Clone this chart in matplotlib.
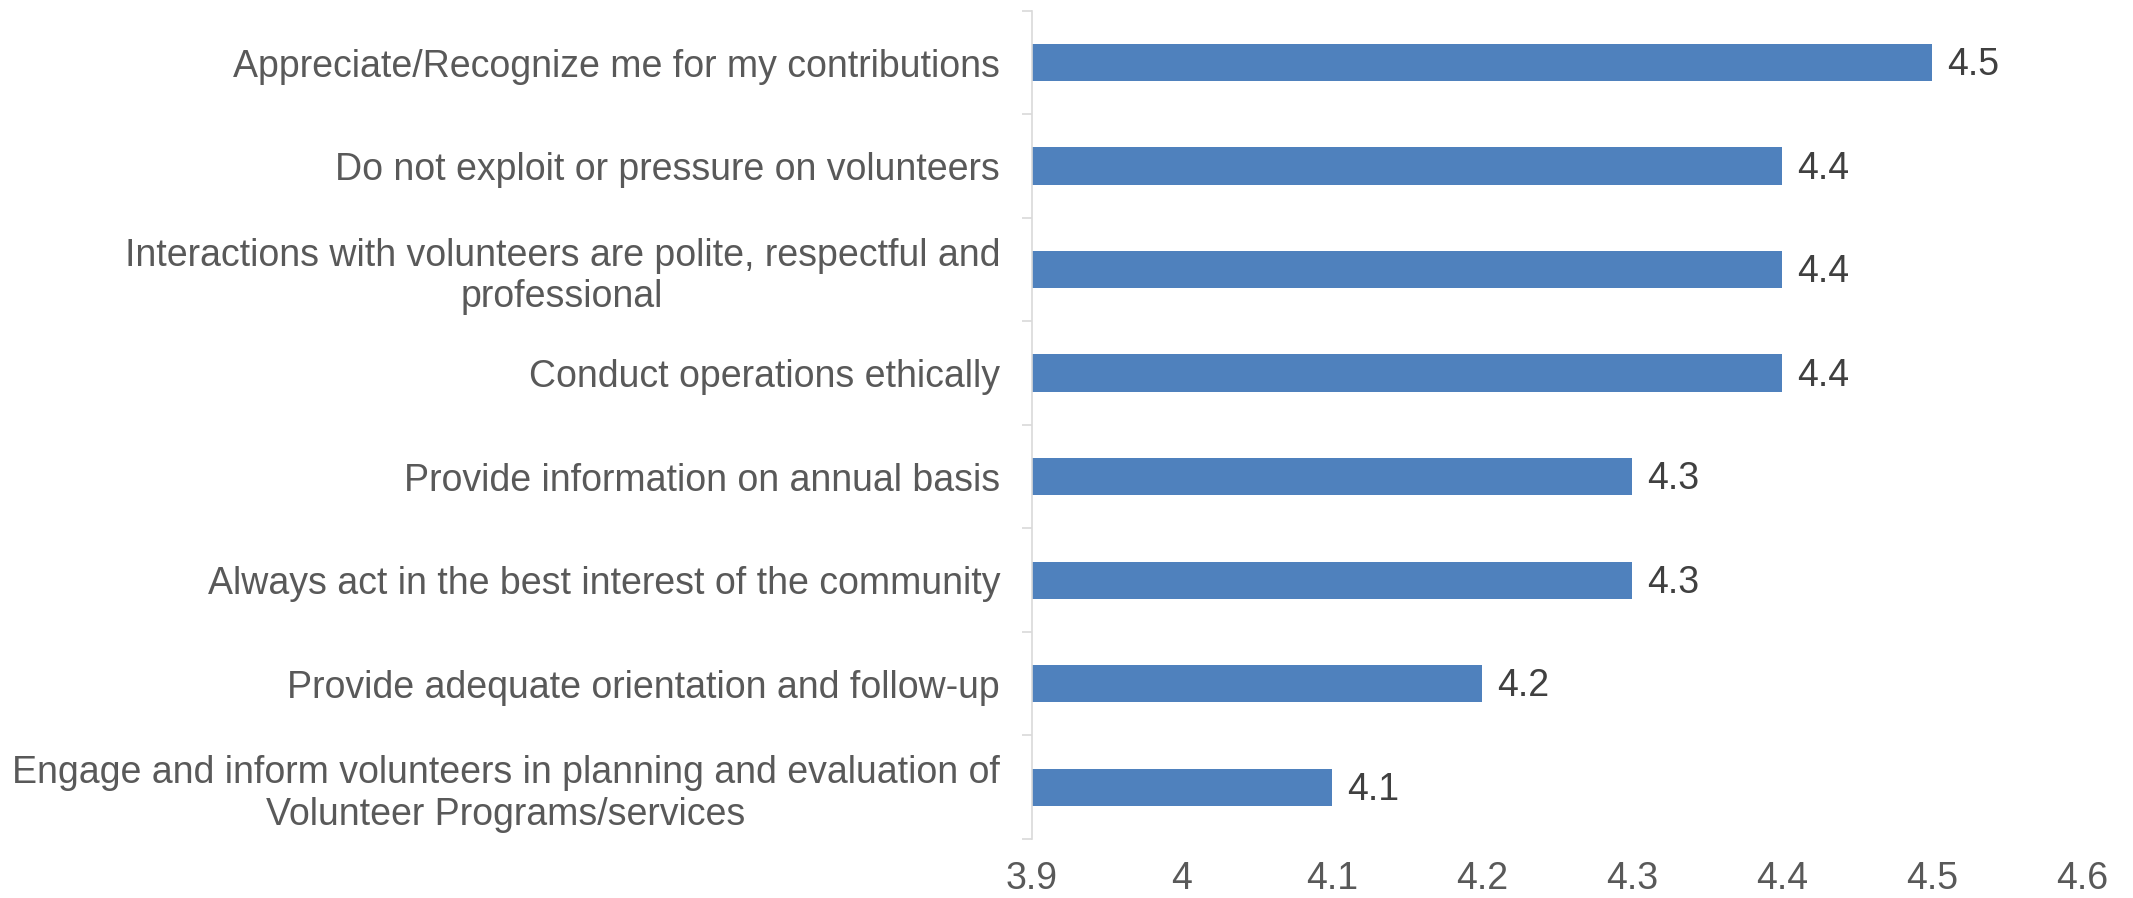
import matplotlib.pyplot as plt
import numpy as np

plt.rcParams['font.family'] = ['Liberation Sans', 'DejaVu Sans']

# Data (top to bottom as shown)
categories = [
    "Appreciate/Recognize me for my contributions",
    "Do not exploit or pressure on volunteers",
    "Interactions with volunteers are polite, respectful and\nprofessional",
    "Conduct operations ethically",
    "Provide information on annual basis",
    "Always act in the best interest of the community",
    "Provide adequate orientation and follow-up",
    "Engage and inform volunteers in planning and evaluation of\nVolunteer Programs/services",
]
scores = [4.5, 4.4, 4.4, 4.4, 4.3, 4.3, 4.2, 4.1]
score_labels = ["4.5", "4.4", "4.4", "4.4", "4.3", "4.3", "4.2", "4.1"]
x_ticks = [3.9, 4.0, 4.1, 4.2, 4.3, 4.4, 4.5, 4.6]
x_tick_labels = ["3.9", "4", "4.1", "4.2", "4.3", "4.4", "4.5", "4.6"]

# Figure
fig = plt.figure(figsize=(21.33, 8.98), dpi=100)
ax = fig.add_axes([0.4838, 0.0657, 0.4922, 0.9223])

y = np.arange(len(categories))
base = x_ticks[0]
ax.barh(y, [s - base for s in scores], left=base, height=0.36, color="#4F81BD")

# Data labels
for yi, s, lab in zip(y, scores, score_labels):
    ax.annotate(lab, (s, yi), xytext=(11, -2), textcoords="offset points",
                va="center", ha="left", fontsize=27, color="#404040")

# Axes
ax.set_xlim(x_ticks[0], x_ticks[-1])
ax.set_ylim(len(categories) - 0.5, -0.5)
ax.set_xticks(x_ticks)
ax.set_xticklabels(x_tick_labels)
ax.tick_params(axis="x", length=0, pad=16, labelsize=27, labelcolor="#595959")

# Category labels; boundary ticks drawn as minor ticks
ax.set_yticks(y)
ax.set_yticklabels(categories, multialignment="center", linespacing=1.2)
ax.tick_params(axis="y", which="major", length=0, pad=23, labelsize=27, labelcolor="#595959")
ax.set_yticks(np.arange(-0.5, len(categories), 1.0), minor=True)
ax.tick_params(axis="y", which="minor", length=7, width=1.2, color="#D9D9D9", direction="out")

for side in ["top", "right", "bottom"]:
    ax.spines[side].set_visible(False)
ax.spines["left"].set_color("#D9D9D9")
ax.spines["left"].set_linewidth(1.2)

fig.savefig("out.png", dpi=100)
plt.close(fig)
